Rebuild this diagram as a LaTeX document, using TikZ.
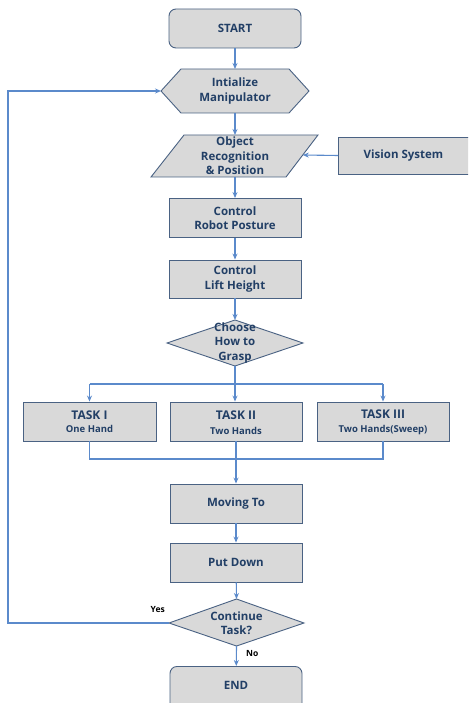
\documentclass[tikz,border=0pt]{standalone}
\usepackage{fontspec}
\setmainfont{Open Sans}
\usetikzlibrary{arrows.meta}
\definecolor{boxfill}{HTML}{D9D9D9}
\definecolor{bordc}{HTML}{4A6283}
\definecolor{txtc}{HTML}{223F66}
\definecolor{linec}{HTML}{5B8ACB}
\begin{document}
\begin{tikzpicture}[x=1pt,y=-1pt,
 shp/.style={draw=bordc, fill=boxfill, line width=0.9pt},
 box/.style={shp, minimum width=132pt, minimum height=39pt, inner sep=0pt, align=center, text=txtc, font=\bfseries\fontsize{11.5}{14.5}\selectfont},
 rbox/.style={box, rounded corners=7pt},
 lbl/.style={text=txtc, align=center, inner sep=0pt, font=\bfseries\fontsize{11.5}{14.5}\selectfont},
 yn/.style={text=black, inner sep=0pt, font=\bfseries\fontsize{8.5}{10}\selectfont},
 conn/.style={draw=linec, line width=1.1pt, -{Stealth[length=6pt,width=5pt]}},
 wire/.style={draw=linec, line width=1.1pt}]
\useasboundingbox (0,0) rectangle (468,703);
\clip (0,0) rectangle (468,703);
% START
\node[rbox] (start) at (235,28.5) {START};
% hexagon
\coordinate (initw) at (161,91);
\coordinate (inite) at (309,91);
\coordinate (initn) at (235,69);
\coordinate (inits) at (235,113);
\path[shp] (initw) -- (181,69) -- (289,69) -- (inite) -- (289,113) -- (181,113) -- cycle;
\node[lbl] (init) at (235,91) {Intialize\\Manipulator};
% parallelogram
\coordinate (objn) at (235,135);
\coordinate (objs) at (235,177);
\coordinate (obje) at (302.8,155);
\path[shp] (184,135) -- (318,135) -- (286,177) -- (151,177) -- cycle;
\node[lbl] (obj) at (235,156) {Object\\Recognition\\\& Position};
% vision
\node[box, minimum width=132pt, minimum height=37pt, anchor=west] (vis) at (338,155.5) {\hspace*{-2pt}Vision System};
% posture
\node[box] (post) at (235,218) {Control\\Robot Posture};
\node[box, minimum height=38pt] (lift) at (235,279) {Control\\Lift Height};
% choose diamond
\coordinate (chn) at (235,320);
\coordinate (chs) at (235,366);
\path[shp] (167,343) -- (chn) -- (303,343) -- (chs) -- cycle;
\node[lbl] (choose) at (235,343) {Choose\\How to\\Grasp};
% tasks
\node[box, minimum width=133pt] (t1) at (89.5,421.5) {};
\node[lbl] at (89.5,421.5) {{\fontsize{12}{14}\selectfont TASK I}\\[-1pt]{\fontsize{9.5}{11}\selectfont One Hand}};
\node[box, minimum width=132pt] (t2) at (236,421.5) {};
\node[lbl] at (236,422.5) {{\fontsize{12}{14}\selectfont TASK II}\\[0pt]{\fontsize{9.5}{11}\selectfont Two Hands}};
\node[box, minimum width=132pt] (t3) at (383,421.5) {};
\node[lbl] at (383,422.5) {{\fontsize{12}{14}\selectfont TASK III}\\[0pt]{\fontsize{9.5}{11}\selectfont Two Hands(Sweep)}};
% lower
\node[box] (move) at (236,503.5) {Moving To};
\node[box] (put) at (236,562.5) {Put Down};
\coordinate (cow) at (169,623);
\coordinate (con) at (236.5,599);
\coordinate (cos) at (236.5,646);
\path[shp] (cow) -- (con) -- (304,623) -- (cos) -- cycle;
\node[lbl] (cont) at (236.5,623) {Continue\\Task?};
\node[rbox, minimum height=44pt, anchor=north] (endn) at (236,666) {};
\node[lbl] at (236,685) {END};
% connectors
\draw[conn] (start) -- (initn);
\draw[conn] (inits) -- (objn);
\draw[conn] (vis.west) -- (obje);
\draw[conn] (objs) -- (post);
\draw[conn] (post) -- (lift);
\draw[conn] (lift) -- (chn);
\coordinate (br) at (235,384);
\coordinate (br1) at (89.5,384);
\coordinate (br3) at (383,384);
\draw[wire] (chs) -- (br);
\draw[wire] (br1) -- (br3);
\draw[conn] (br) -- (t2.north -| br);
\draw[conn] (br1) -- (t1.north);
\draw[conn] (br3) -- (t3.north);
\coordinate (mg) at (236,459);
\draw[wire] (t1.south) |- (mg) -| (t3.south);
\draw[conn] (t2.south) -- (move);
\draw[conn] (move) -- (put);
\draw[conn] (put) -- (con);
\draw[conn] (cos) -- (endn);
\coordinate (lp1) at (8,623);
\coordinate (lp2) at (8,91);
\draw[conn] (cow) -- (lp1) -- (lp2) -- (initw);
\node[yn, anchor=east] (yes) at (165,610) {Yes};
\node[yn, anchor=west] (no) at (246,653) {No};
\end{tikzpicture}
\end{document}
